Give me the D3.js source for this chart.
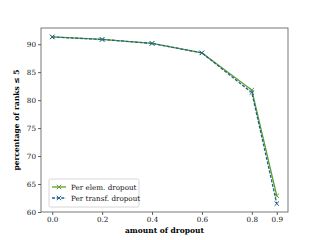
<!DOCTYPE html>
<html lang="en">
<head>
	<meta charset="utf-8">
	<script src="https://d3js.org/d3.v7.min.js"></script>
	<style>
		body { margin: 0; background: #fff; }
		text { font-family: "DejaVu Serif", serif; }
	</style>
</head>
<body>
	<script>
		var dropout = [0.0, 0.2, 0.4, 0.6, 0.8, 0.9];
		var perElem = [91.3, 90.85, 90.15, 88.45, 81.8, 62.9];
		var perTransf = [91.3, 90.85, 90.15, 88.45, 81.35, 61.5];
		var xTicks = [0.0, 0.2, 0.4, 0.6, 0.8, 0.9];
		var yTicks = [60, 65, 70, 75, 80, 85, 90];
		var seriesNames = ["Per elem. dropout", "Per transf. dropout"];

		var w = 320, h = 240;
		var plotLeft = 41, plotRight = 288, plotTop = 28, plotBottom = 212;

		var svg = d3.select("body").append("svg")
			.attr("width", w)
			.attr("height", h);

		var x = d3.scaleLinear().domain([-0.045, 0.945]).range([plotLeft, plotRight]);
		var y = d3.scaleLinear().domain([60, 92.9]).range([plotBottom, plotTop]);

		// axes
		var xAxis = svg.append("g")
			.attr("transform", "translate(0," + plotBottom + ")")
			.call(d3.axisBottom(x).tickValues(xTicks).tickFormat(d3.format(".1f")).tickSize(3).tickPadding(2));
		var yAxis = svg.append("g")
			.attr("transform", "translate(" + plotLeft + ",0)")
			.call(d3.axisLeft(y).tickValues(yTicks).tickFormat(d3.format("d")).tickSize(3).tickPadding(2));

		[xAxis, yAxis].forEach(function(g) {
			g.select(".domain").remove();
			g.selectAll("line").attr("stroke", "#333").attr("stroke-width", 0.8);
			g.selectAll("text").attr("font-size", 7.2).attr("fill", "#111")
				.attr("font-family", "DejaVu Serif, serif");
		});

		// frame
		svg.append("rect")
			.attr("x", plotLeft).attr("y", plotTop)
			.attr("width", plotRight - plotLeft).attr("height", plotBottom - plotTop)
			.attr("fill", "none").attr("stroke", "#555").attr("stroke-width", 0.8);

		var series = [
			{ name: seriesNames[0], values: perElem, color: "#5ca12a", dash: null },
			{ name: seriesNames[1], values: perTransf, color: "#24618c", dash: "3,1.6" }
		];

		var line = d3.line()
			.x(function(d, i) { return x(dropout[i]); })
			.y(function(d) { return y(d); });

		function cross(g, cx, cy, color) {
			var s = 2.2;
			g.append("path")
				.attr("d", "M" + (cx - s) + "," + (cy - s) + "L" + (cx + s) + "," + (cy + s) +
					"M" + (cx - s) + "," + (cy + s) + "L" + (cx + s) + "," + (cy - s))
				.attr("stroke", color).attr("stroke-width", 1).attr("fill", "none");
		}

		series.forEach(function(s) {
			var g = svg.append("g");
			g.append("path")
				.datum(s.values)
				.attr("d", line)
				.attr("fill", "none")
				.attr("stroke", s.color)
				.attr("stroke-width", 1.3)
				.attr("stroke-dasharray", s.dash);
			s.values.forEach(function(v, i) {
				cross(g, x(dropout[i]), y(v), s.color);
			});
		});

		// legend
		var lg = svg.append("g").attr("transform", "translate(49,179)");
		lg.append("rect")
			.attr("width", 90).attr("height", 28).attr("rx", 1.5)
			.attr("fill", "#fff").attr("fill-opacity", 0.8)
			.attr("stroke", "#ccc").attr("stroke-width", 0.8);
		series.forEach(function(s, i) {
			var yy = 8 + i * 11;
			lg.append("line")
				.attr("x1", 3).attr("x2", 17).attr("y1", yy).attr("y2", yy)
				.attr("stroke", s.color).attr("stroke-width", 1.3)
				.attr("stroke-dasharray", s.dash);
			cross(lg, 10, yy, s.color);
			lg.append("text")
				.attr("x", 22).attr("y", yy + 2.5)
				.attr("font-size", 7.2).attr("fill", "#111")
				.text(s.name);
		});

		// labels
		svg.append("text")
			.attr("x", (plotLeft + plotRight) / 2).attr("y", 233)
			.attr("text-anchor", "middle")
			.attr("font-size", 7.5).attr("font-weight", "bold")
			.text("amount of dropout");

		svg.append("text")
			.attr("transform", "translate(19," + ((plotTop + plotBottom) / 2) + ") rotate(-90)")
			.attr("text-anchor", "middle")
			.attr("font-size", 7.5).attr("font-weight", "bold")
			.text("percentage of ranks \u2264 5");
	</script>
</body>
</html>
